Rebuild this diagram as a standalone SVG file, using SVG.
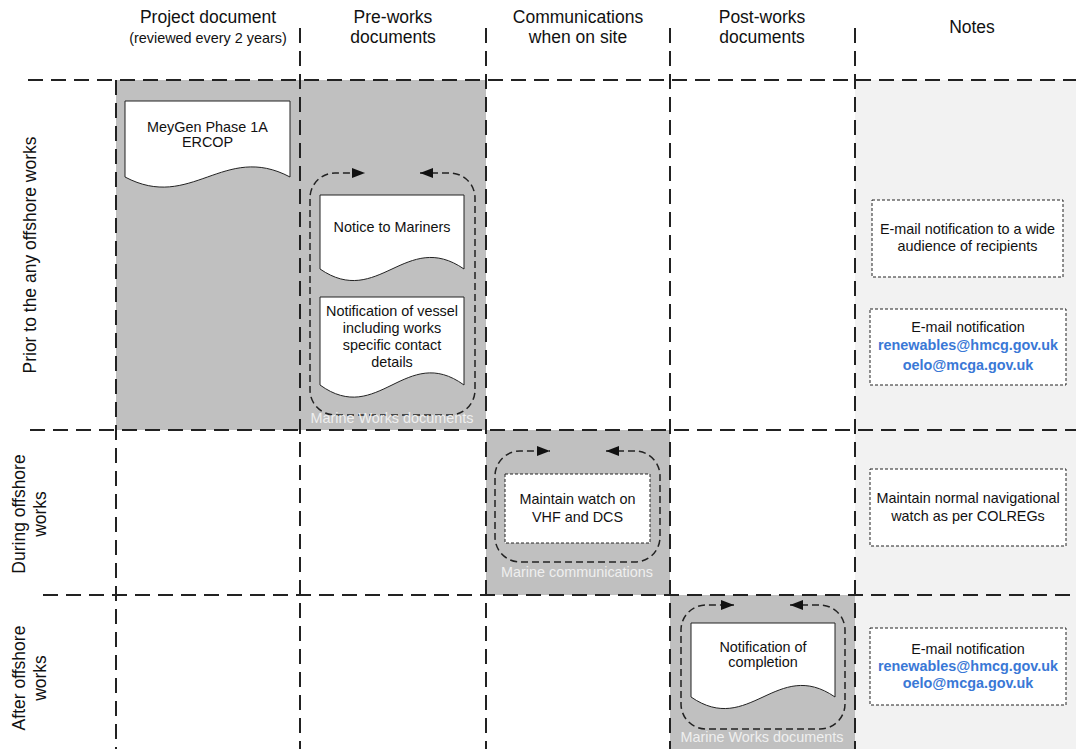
<svg xmlns="http://www.w3.org/2000/svg" width="1076" height="749" viewBox="0 0 1076 749">
<style>
text{font-family:"Liberation Sans",Arial,sans-serif;fill:#111;}
.hd{font-size:17.5px;text-anchor:middle;}
.t{font-size:14.4px;text-anchor:middle;}
.lbl{font-size:14.4px;text-anchor:middle;fill:#efefef;}
.em{font-size:14.4px;text-anchor:middle;font-weight:bold;fill:#3a78d6;}
.grid{stroke:#222;stroke-width:2;stroke-dasharray:15 8;fill:none;}
.doc{fill:#fff;stroke:#222;stroke-width:1;}
.note{fill:#fff;stroke:#222;stroke-width:1;stroke-dasharray:3 2;}
.loop{fill:none;stroke:#222;stroke-width:1.5;stroke-dasharray:7 4;}
</style>
<defs>
<marker id="ah" viewBox="0 0 13 10" refX="13" refY="5" markerUnits="userSpaceOnUse" markerWidth="13" markerHeight="10" orient="auto-start-reverse">
<path d="M0,0 L13,5 L0,10 z" fill="#111"/>
</marker>
</defs>
<rect width="1076" height="749" fill="#fff"/>
<g id="backgrounds">
<rect x="855" y="80" width="221" height="669" fill="#f2f2f2"/>
<rect x="116" y="80" width="370" height="350" fill="#c0c0c0"/>
<rect x="486" y="430" width="184" height="165" fill="#c0c0c0"/>
<rect x="670" y="595" width="185" height="154" fill="#c0c0c0"/>
</g>
<g id="grid">
<line class="grid" x1="28" y1="80" x2="1076" y2="80"/>
<line class="grid" x1="30" y1="430" x2="1076" y2="430"/>
<line class="grid" x1="43" y1="595" x2="1076" y2="595"/>
<line class="grid" x1="116" y1="80" x2="116" y2="749"/>
<line class="grid" x1="300" y1="28" x2="300" y2="749"/>
<line class="grid" x1="486" y1="28" x2="486" y2="749"/>
<line class="grid" x1="670" y1="28" x2="670" y2="749"/>
<line class="grid" x1="855" y1="28" x2="855" y2="749"/>
</g>
<g id="headers">
<text class="hd" x="208" y="23">Project document</text>
<text class="t" x="208" y="43">(reviewed every 2 years)</text>
<text class="hd" x="393" y="23">Pre-works</text>
<text class="hd" x="393" y="43">documents</text>
<text class="hd" x="578" y="23">Communications</text>
<text class="hd" x="578" y="43">when on site</text>
<text class="hd" x="762" y="23">Post-works</text>
<text class="hd" x="762" y="43">documents</text>
<text class="hd" x="972" y="33">Notes</text>
</g>
<g id="row-labels">
<text class="hd" transform="translate(36,255) rotate(-90)">Prior to the any offshore works</text>
<text class="hd" transform="translate(25,514) rotate(-90)">During offshore</text>
<text class="hd" transform="translate(46,514) rotate(-90)">works</text>
<text class="hd" transform="translate(25,678) rotate(-90)">After offshore</text>
<text class="hd" transform="translate(46,678) rotate(-90)">works</text>
</g>
<g id="connectors">
<path class="loop" marker-start="url(#ah)" marker-end="url(#ah)" d="M420,173 H450 A25,25 0 0 1 475,198 V390 A25,25 0 0 1 450,415 H335 A25,25 0 0 1 310,390 V198 A25,25 0 0 1 335,173 H365"/>
<path class="loop" marker-start="url(#ah)" marker-end="url(#ah)" d="M606,451 H635 A25,25 0 0 1 660,476 V537 A25,25 0 0 1 635,562 H520 A25,25 0 0 1 495,537 V476 A25,25 0 0 1 520,451 H550"/>
<path class="loop" marker-start="url(#ah)" marker-end="url(#ah)" d="M790,605 H820 A25,25 0 0 1 845,630 V704 A25,25 0 0 1 820,729 H706 A25,25 0 0 1 681,704 V630 A25,25 0 0 1 706,605 H734"/>
</g>
<g id="group-labels">
<text class="lbl" x="392" y="423">Marine Works documents</text>
<text class="lbl" x="577" y="577">Marine communications</text>
<text class="lbl" x="762" y="742">Marine Works documents</text>
</g>
<g id="node-ercop">
<path class="doc" d="M125,101 H290 V177 C224,142 191,212 125,177 Z"/>
<text class="t" x="207.5" y="132">MeyGen Phase 1A</text>
<text class="t" x="207.5" y="147">ERCOP</text>
</g>
<g id="node-ntm">
<path class="doc" d="M320,195 H464 V269 C406,229 378,309 320,269 Z"/>
<text class="t" x="392" y="232">Notice to Mariners</text>
</g>
<g id="node-vessel">
<path class="doc" d="M320,297 H464 V385 C406,343 378,427 320,385 Z"/>
<text class="t" x="392" y="316">Notification of vessel</text>
<text class="t" x="392" y="333">including works</text>
<text class="t" x="392" y="350">specific contact</text>
<text class="t" x="392" y="367">details</text>
</g>
<g id="node-watch">
<rect class="note" x="505" y="474" width="145" height="69"/>
<text class="t" x="577.5" y="504">Maintain watch on</text>
<text class="t" x="577.5" y="522">VHF and DCS</text>
</g>
<g id="node-completion">
<path class="doc" d="M691,623 H835 V697 C777,657 749,737 691,697 Z"/>
<text class="t" x="763" y="652">Notification of</text>
<text class="t" x="763" y="667">completion</text>
</g>
<g id="note-1">
<rect class="note" x="872" y="200" width="191" height="77"/>
<text class="t" x="967.5" y="234">E-mail notification to a wide</text>
<text class="t" x="967.5" y="251">audience of recipients</text>
</g>
<g id="note-2">
<rect class="note" x="870" y="309" width="196" height="76"/>
<text class="t" x="968" y="332">E-mail notification</text>
<text class="em" x="968" y="350">renewables@hmcg.gov.uk</text>
<text class="em" x="968" y="370">oelo@mcga.gov.uk</text>
</g>
<g id="note-3">
<rect class="note" x="870" y="469" width="196" height="77"/>
<text class="t" x="968" y="503">Maintain normal navigational</text>
<text class="t" x="968" y="521">watch as per COLREGs</text>
</g>
<g id="note-4">
<rect class="note" x="870" y="628" width="196" height="77"/>
<text class="t" x="968" y="654">E-mail notification</text>
<text class="em" x="968" y="671">renewables@hmcg.gov.uk</text>
<text class="em" x="968" y="688">oelo@mcga.gov.uk</text>
</g>
</svg>
